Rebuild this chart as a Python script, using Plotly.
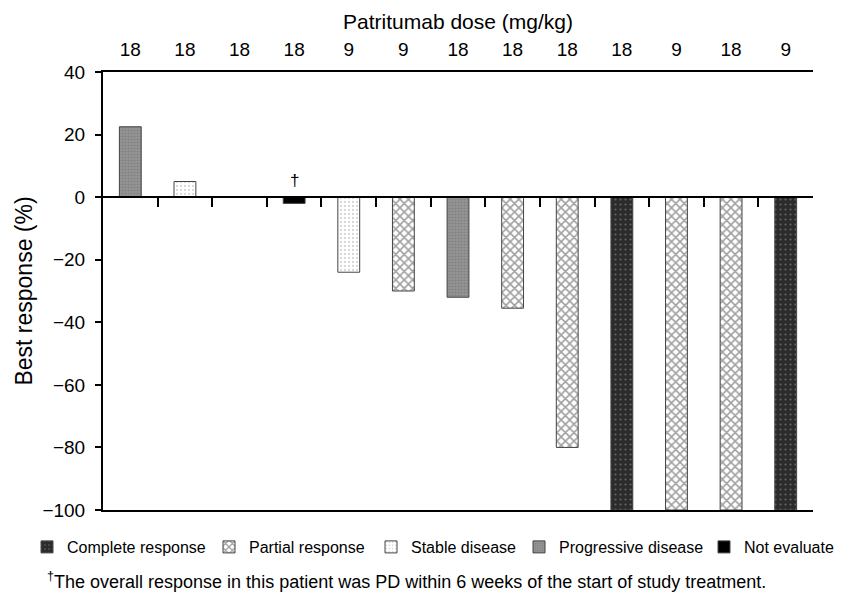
import plotly.graph_objects as go

# ---- data ----
patients = list(range(13))
doses = ["18", "18", "18", "18", "9", "9", "18", "18", "18", "18", "9", "18", "9"]
best_response = [22.5, 5, 0, -2, -24, -30, -32, -35.5, -80, -100, -100, -100, -100]
response_cat = ["PD", "SD", "SD", "NE", "SD", "PR", "PD", "PR", "PR", "CR", "PR", "PR", "CR"]
category_names = {
    "CR": "Complete response",
    "PR": "Partial response",
    "SD": "Stable disease",
    "PD": "Progressive disease",
    "NE": "Not evaluated",
}
category_order = ["CR", "PR", "SD", "PD", "NE"]
y_ticks = [-100, -80, -60, -40, -20, 0, 20, 40]
footnote = "<sup>†</sup>The overall response in this patient was PD within 6 weeks of the start of study treatment."

styles = {
    "CR": dict(color="#2b2b2b", pattern=dict(shape=".", fgcolor="#9a9a9a", bgcolor="#2b2b2b", size=5, solidity=0.15)),
    "PR": dict(color="white", pattern=dict(shape="x", fgcolor="#3f3f3f", bgcolor="white", size=6, solidity=0.45)),
    "SD": dict(color="white", pattern=dict(shape=".", fgcolor="#b0b0b0", bgcolor="white", size=4, solidity=0.25)),
    "PD": dict(color="#8a8a8a", pattern=dict(shape=".", fgcolor="#6e6e6e", bgcolor="#959595", size=3, solidity=0.4)),
    "NE": dict(color="black", pattern=dict(shape="")),
}

FONT = "Liberation Sans, Arial, sans-serif"
# figure is drawn inside the page's default 8px body margin
W, H = 834, 585
L, R, T, B = 95, 29, 64, 83
PW, PH = W - L - R, H - T - B

# legend box left edges in figure pixels (one legend per category)
legend_left_px = {"CR": 19, "PR": 201, "SD": 363, "PD": 511, "NE": 696}

fig = go.Figure()
for i, cat in enumerate(category_order):
    xs = [p for p, c in zip(patients, response_cat) if c == cat]
    ys = [v for v, c in zip(best_response, response_cat) if c == cat]
    st = styles[cat]
    fig.add_trace(go.Bar(
        x=xs, y=ys, name=category_names[cat], width=0.4,
        marker=dict(color=st["color"], pattern=st["pattern"],
                    line=dict(color="#444444", width=1)),
        xaxis="x", yaxis="y",
        legend="legend" if i == 0 else f"legend{i + 1}",
    ))

# invisible traces to carry the top (dose) axis and the zero-line axis
fig.add_trace(go.Scatter(x=patients, y=[None] * len(patients), xaxis="x2", yaxis="y",
                         showlegend=False, hoverinfo="skip", mode="markers"))
fig.add_trace(go.Scatter(x=patients, y=[None] * len(patients), xaxis="x3", yaxis="y",
                         showlegend=False, hoverinfo="skip", mode="markers"))

xr = [-0.5, len(patients) - 0.5]
ymin, ymax = -100, 40

legend_style = dict(orientation="h", y=-37 / PH, yanchor="middle", xanchor="left",
                    font=dict(family=FONT, size=16), itemwidth=30,
                    bgcolor="rgba(0,0,0,0)", borderwidth=0)
legends = {}
for i, cat in enumerate(category_order):
    key = "legend" if i == 0 else f"legend{i + 1}"
    legends[key] = dict(legend_style, x=(legend_left_px[cat] - L) / PW)

fig.update_layout(
    width=W, height=H,
    margin=dict(l=L, r=R, t=T, b=B, autoexpand=False),
    paper_bgcolor="white", plot_bgcolor="white",
    barmode="overlay",
    font=dict(family=FONT, size=17, color="black"),
    xaxis=dict(range=xr, showline=True, linecolor="black", linewidth=2, mirror=True,
               showticklabels=False, ticks="", showgrid=False, zeroline=False, automargin=False),
    xaxis2=dict(range=xr, overlaying="x", side="top", anchor="y",
                tickvals=patients, ticktext=doses, ticks="", showline=False,
                showgrid=False, zeroline=False, automargin=False, ticklabelstandoff=11,
                tickfont=dict(family=FONT, size=19),
                title=dict(text="Patritumab dose (mg/kg)", font=dict(family=FONT, size=21), standoff=3)),
    xaxis3=dict(range=xr, overlaying="x", anchor="free", position=(0 - ymin) / (ymax - ymin),
                side="bottom", showline=True, linecolor="black", linewidth=2,
                tickvals=[p + 0.5 for p in patients[:-1]], ticks="outside", ticklen=9,
                tickwidth=2, tickcolor="black", showticklabels=False,
                showgrid=False, zeroline=False, automargin=False),
    yaxis=dict(range=[ymin, ymax], tickvals=y_ticks, ticks="outside", ticklen=6,
               tickwidth=2, tickcolor="black", showline=True, linecolor="black", linewidth=2,
               showgrid=False, zeroline=False, tickfont=dict(family=FONT, size=19),
               ticklabelstandoff=6, automargin=False,
               title=dict(text="Best response (%)", font=dict(family=FONT, size=23), standoff=3)),
    annotations=[
        dict(x=3, y=0, xref="x", yref="y",
             text="†", showarrow=False, yanchor="bottom", yshift=5,
             font=dict(family=FONT, size=17, color="black")),
        dict(x=(37 - L) / PW, y=-70 / PH, xref="paper", yref="paper", text=footnote,
             showarrow=False, xanchor="left", yanchor="middle",
             font=dict(family=FONT, size=18, color="black")),
    ],
    **legends,
)

fig.write_html("out.html")
